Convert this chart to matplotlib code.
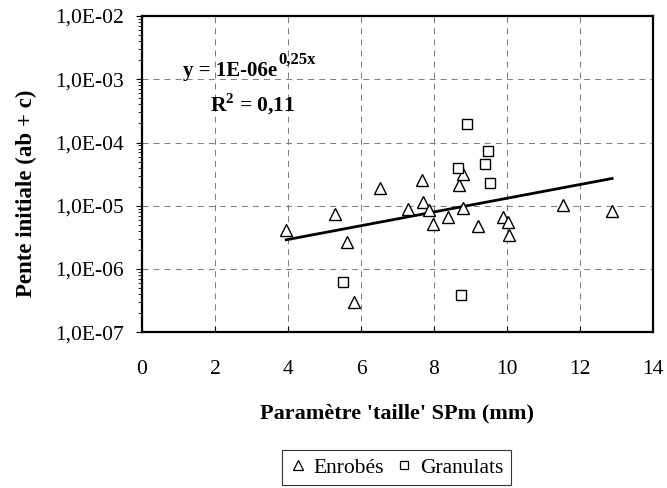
import numpy as np
import matplotlib
matplotlib.use('Agg')
import matplotlib.pyplot as plt
from matplotlib.lines import Line2D
from matplotlib.ticker import FuncFormatter, LogLocator, NullFormatter

plt.rcParams['font.family'] = ['Liberation Serif', 'DejaVu Serif']
plt.rcParams['mathtext.fontset'] = 'custom'
plt.rcParams['mathtext.rm'] = 'Liberation Serif'
plt.rcParams['mathtext.bf'] = 'Liberation Serif:bold'

# Enrobés (triangles)
enrobes_x = [3.95, 5.29, 5.61, 5.82, 6.53, 7.30, 7.67, 7.70, 7.85, 7.98,
             8.39, 8.68, 8.80, 8.80, 9.21, 9.89, 10.02, 10.05, 11.54, 12.88]
enrobes_y = [4.2e-6, 7.4e-6, 2.7e-6, 3.0e-7, 1.9e-5, 9.0e-6, 2.56e-5, 1.14e-5, 8.6e-6, 5.1e-6,
             6.7e-6, 2.16e-5, 3.15e-5, 9.1e-6, 4.8e-6, 6.7e-6, 5.6e-6, 3.5e-6, 1.03e-5, 8.3e-6]

# Granulats (squares)
granulats_x = [8.90, 9.48, 9.39, 8.66, 9.54, 5.52, 8.74]
granulats_y = [1.95e-4, 7.3e-5, 4.5e-5, 3.9e-5, 2.3e-5, 6.2e-7, 3.9e-7]

# trendline shown in the chart: y = 1E-06 e^(0,25x)
trend_a = 1.08e-6
trend_b = 0.25
trend_x = [3.95, 12.88]

xticks = [0, 2, 4, 6, 8, 10, 12, 14]
fs = 15.5

fig = plt.figure(figsize=(6.67, 4.88), dpi=100)
ax = fig.add_axes([142 / 667, 1 - 332.3 / 488, 511 / 667, 316.3 / 488])

ax.set_yscale('log')
ax.set_xlim(0, 14)
ax.set_ylim(1e-7, 1e-2)

ax.grid(True, which='major', color='#808080', linewidth=0.75, linestyle=(0, (5.8, 4.8)))
ax.set_axisbelow(True)

tx = np.linspace(trend_x[0], trend_x[1], 50)
ax.plot(tx, trend_a * np.exp(trend_b * tx), color='black', linewidth=2.0, zorder=2)

ax.plot(enrobes_x, enrobes_y, linestyle='none', marker='^', markersize=8.5,
        markerfacecolor='white', markeredgecolor='black', markeredgewidth=1.0, zorder=3)
ax.plot(granulats_x, granulats_y, linestyle='none', marker='s', markersize=7.2,
        markerfacecolor='white', markeredgecolor='black', markeredgewidth=1.0, zorder=3)

ax.set_xticks(xticks)
ax.tick_params(axis='x', direction='in', length=4.3, width=0.8, pad=20, labelsize=fs)
ax.tick_params(axis='y', which='major', direction='out', length=4.3, width=0.8, pad=9, labelsize=fs)
ax.tick_params(axis='y', which='minor', direction='out', length=3, width=0.6)
ax.yaxis.set_major_locator(LogLocator(base=10, numticks=10))
ax.yaxis.set_minor_locator(LogLocator(base=10, subs=np.arange(2, 10), numticks=20))
ax.yaxis.set_minor_formatter(NullFormatter())
ax.yaxis.set_major_formatter(FuncFormatter(lambda v, p: '1,0E-%02d' % round(-np.log10(v))))

for s in ax.spines.values():
    s.set_linewidth(1.6)
    s.set_color('black')

ax.set_xlabel("Paramètre 'taille' SPm (mm)", fontsize=fs + 0.5, fontweight='bold', labelpad=17.5)
ax.set_ylabel('Pente initiale (ab + c)', fontsize=16.5, fontweight='bold')
ax.yaxis.set_label_coords(-0.205, 0.44)

# equation and R²
t1 = ax.text(0.080, 0.810, 'y = 1E-06e', transform=ax.transAxes, fontsize=15,
             fontweight='bold', ha='left', va='baseline')
ax.annotate('0,25x', xy=(1, 0), xycoords=t1, xytext=(1, 12.5), textcoords='offset points',
            fontsize=12, fontweight='bold', ha='left', va='baseline')
ax.text(0.133, 0.697, r'R$^{\mathbf{2}}$ = 0,11', transform=ax.transAxes, fontsize=15.5,
        fontweight='bold', ha='left', va='baseline')

handles = [
    Line2D([], [], linestyle='none', marker='^', markersize=7.5, markerfacecolor='white',
           markeredgecolor='black', markeredgewidth=0.9),
    Line2D([], [], linestyle='none', marker='s', markersize=6, markerfacecolor='white',
           markeredgecolor='black', markeredgewidth=0.9),
]
leg = fig.legend(handles, ['Enrobés', 'Granulats'], loc='upper center', bbox_to_anchor=(0.594, 1 - 450 / 488),
                 ncol=2, fontsize=fs, frameon=True, fancybox=False, handlelength=0.8,
                 handletextpad=0.35, columnspacing=0.5, borderpad=0.35, borderaxespad=0)
leg.get_frame().set_edgecolor('black')
leg.get_frame().set_linewidth(0.8)

fig.savefig('out.png', dpi=100)
